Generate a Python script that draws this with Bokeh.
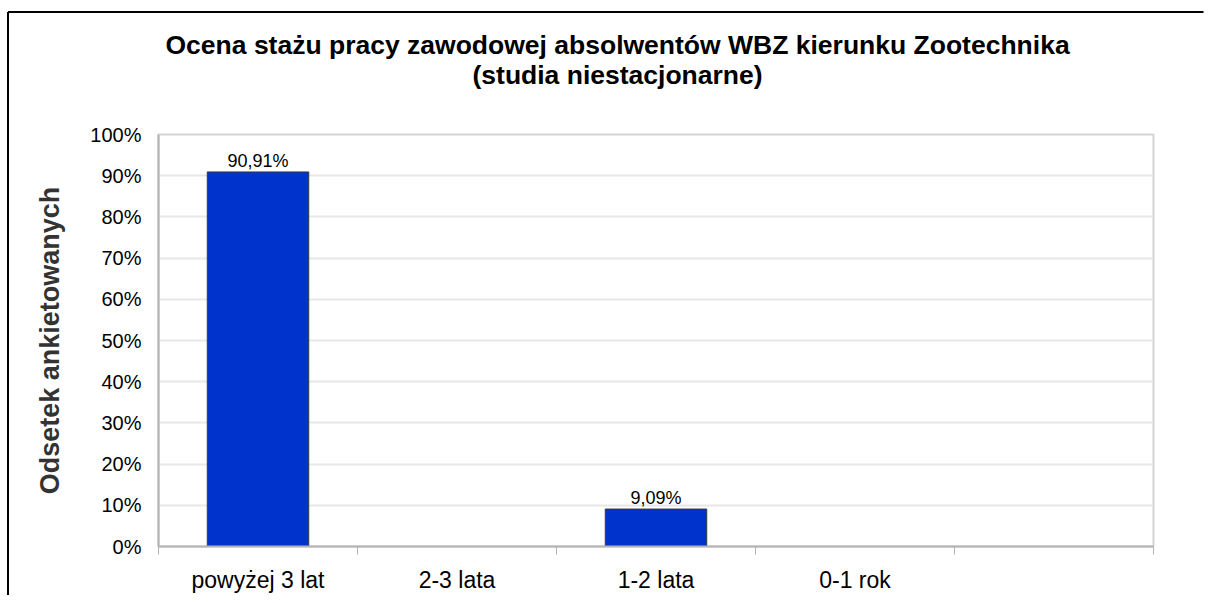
from bokeh.plotting import figure
from bokeh.models import Range1d, FixedTicker, PrintfTickFormatter, ColumnDataSource, Title
from bokeh.embed import file_html
from bokeh.resources import INLINE
from bokeh.core.properties import value

categories = ["powyżej 3 lat", "2-3 lata", "1-2 lata", "0-1 rok"]
values = [90.91, 0.0, 9.09, 0.0]
y_ticks = [0, 10, 20, 30, 40, 50, 60, 70, 80, 90, 100]
n_slots = 5

title_line1 = "Ocena stażu pracy zawodowej absolwentów WBZ kierunku Zootechnika"
title_line2 = "(studia niestacjonarne)"
y_label = "Odsetek ankietowanych"

FONT = "Liberation Sans"

W, H = 1205, 595
FL, FR, FT, FB = 158, 1153, 134, 556   # frame edges in canvas pixels
p = figure(width=W, height=H, output_backend="svg", toolbar_location=None,
           title_location=None,
           x_range=Range1d(0, n_slots), y_range=Range1d(0, 100))
p.min_border_left = FL
p.min_border_right = W - FR
p.min_border_top = FT
p.min_border_bottom = H - FB

# title: spacer + two lines, stacked from the frame outward
p.add_layout(Title(text=" ", text_font_size="1px", standoff=42), "above")
p.add_layout(Title(text=title_line2, align="left", offset=314, text_font=FONT,
                   text_font_size="26.5px", text_font_style="bold", text_color="#000000",
                   standoff=0), "above")
p.add_layout(Title(text=title_line1, align="left", offset=7, text_font=FONT,
                   text_font_size="26.5px", text_font_style="bold", text_color="#000000",
                   standoff=-4), "above")

# outer black frame of the chart picture (left and top edges), drawn unclipped
def px2x(px):
    return (px - FL) / (FR - FL) * n_slots

def py2y(py):
    return (FB - py) / (FB - FT) * 100

p.segment(x0=[px2x(7.5), px2x(7.5)], y0=[py2y(8.5), py2y(8.5)],
          x1=[px2x(7.5), px2x(W - 2)], y1=[py2y(H + 20), py2y(8.5)],
          line_color="black", line_width=2, level="overlay")

xs = [i + 0.5 for i in range(len(categories))]
src = ColumnDataSource(dict(x=xs, top=values,
                            lab=[(f"{v:.2f}".replace(".", ",") + "%") if v > 0 else "" for v in values]))
p.vbar(x="x", top="top", width=0.51, source=src, fill_color="#0033CC",
       line_color="#3a3a3a", line_width=1)
p.text(x="x", y="top", text="lab", source=src, text_align="center", text_baseline="bottom",
       y_offset=-1, text_font=value(FONT), text_font_size="18px", text_color="#000000")

# axes
p.xaxis.ticker = FixedTicker(ticks=xs, minor_ticks=list(range(n_slots + 1)))
p.xaxis.major_label_overrides = {x: c for x, c in zip(xs, categories)}
p.xaxis.major_tick_out = 0
p.xaxis.major_tick_in = 0
p.xaxis.minor_tick_out = 8
p.xaxis.minor_tick_in = 0
p.xaxis.minor_tick_line_color = "#b3b3b3"
p.xaxis.axis_line_color = "#b3b3b3"
p.xaxis.axis_line_width = 2
p.xaxis.major_label_text_font = FONT
p.xaxis.major_label_text_font_size = "23px"
p.xaxis.major_label_text_color = "#000000"
p.xaxis.major_label_standoff = 12

p.yaxis.ticker = FixedTicker(ticks=y_ticks)
p.yaxis.formatter = PrintfTickFormatter(format="%d%%")
p.yaxis.major_tick_out = 0
p.yaxis.major_tick_in = 0
p.yaxis.minor_tick_out = 0
p.yaxis.minor_tick_in = 0
p.yaxis.axis_line_color = "#b3b3b3"
p.yaxis.axis_line_width = 2
p.yaxis.major_label_text_font = FONT
p.yaxis.major_label_text_font_size = "20px"
p.yaxis.major_label_text_color = "#000000"
p.yaxis.major_label_standoff = 17
p.yaxis.axis_label = y_label
p.yaxis.axis_label_text_font = FONT
p.yaxis.axis_label_text_font_size = "27px"
p.yaxis.axis_label_text_font_style = "bold"
p.yaxis.axis_label_text_color = "#333333"
p.yaxis.axis_label_standoff = 22

p.xgrid.grid_line_color = None
p.ygrid.ticker = FixedTicker(ticks=y_ticks)
p.ygrid.grid_line_color = "#e8e8e8"
p.ygrid.grid_line_width = 2
p.outline_line_color = "#d4d4d4"
p.outline_line_width = 2
p.background_fill_color = "white"
p.border_fill_color = "white"

open("out.html", "w").write(file_html(p, INLINE))
